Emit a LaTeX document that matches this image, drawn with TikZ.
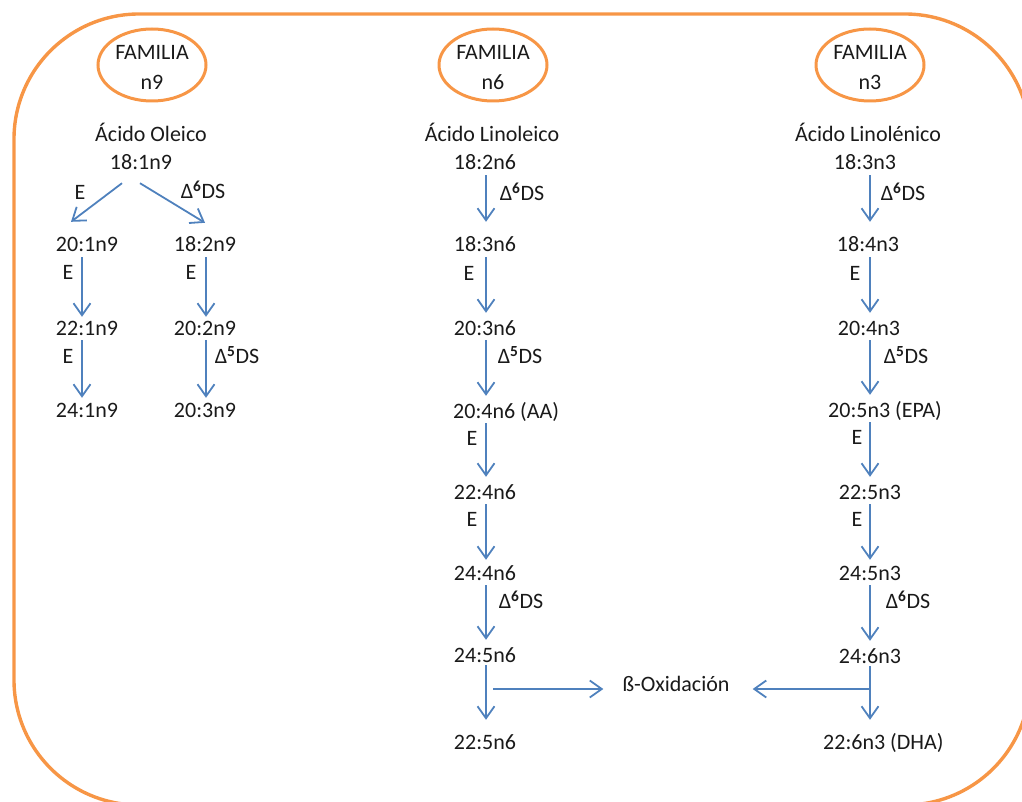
\documentclass[tikz,border=0pt]{standalone}
\usepackage{fontspec}
\setmainfont{Carlito}
\usetikzlibrary{arrows.meta,shapes.geometric,calc}
\definecolor{borange}{HTML}{F79646}
\definecolor{ablue}{HTML}{4F81BD}
\definecolor{txt}{HTML}{1A1A1A}
\newcommand{\dsup}[1]{Δ\textsuperscript{\textbf{#1}}DS}
\begin{document}
\begin{tikzpicture}[x=1pt,y=-1pt,
  lbl/.style={font=\fontsize{22}{26}\selectfont, inner sep=0pt, text=txt, text height=14pt, text depth=0pt},
  enz/.style={font=\fontsize{22}{26}\selectfont, inner sep=0pt, text=txt},
  fam/.style={ellipse, draw=borange, line width=3pt, align=center, minimum width=108pt, minimum height=72pt, inner sep=0pt, text=txt, font=\fontsize{22}{30}\selectfont},
  arr/.style={draw=ablue, line width=1.8pt, -{Straight Barb[length=12pt,width=17pt]}},
  vstep/.style={arr, shorten <=5pt, shorten >=8pt},
]
\useasboundingbox (0,0) rectangle (1022,802);
\begin{scope}
  \clip (0,0) rectangle (1022,802);
  \draw[borange, line width=3.4pt, rounded corners=125pt] (14,14) rectangle (1030,805);
\end{scope}

% column coordinates for the connectors
\coordinate (ca) at (82,0);
\coordinate (cb) at (206,0);
\coordinate (c6) at (486,0);
\coordinate (c3) at (870,0);

% families
\node[fam] (f9) at (152,65) {\rule{0pt}{20pt}FAMILIA\\n9};
\node[fam] (f6) at (493,65) {\rule{0pt}{20pt}FAMILIA\\n6};
\node[fam] (f3) at (870,65) {\rule{0pt}{20pt}FAMILIA\\n3};

% ---------- n9 ----------
\node[lbl] (ao) at (151,135) {Ácido Oleico};
\node[lbl] (a0) at (141,163) {18:1n9};
\node[lbl] (a1) at (87,245) {20:1n9};
\node[lbl] (a2) at (87,328) {22:1n9};
\node[lbl] (a3) at (87,410) {24:1n9};
\node[lbl] (b1) at (205,245) {18:2n9};
\node[lbl] (b2) at (205,328) {20:2n9};
\node[lbl] (b3) at (205,410) {20:3n9};

\draw[arr] ($(a0.south)+(-19,13)$) -- ($(a1.north)+(-16,-16)$);
\draw[arr] ($(a0.south)+(-1,13)$) -- ($(b1.north)+(0,-15)$);
\node[enz] at (80,192) {E};
\node[enz] at (203,190) {\dsup{6}};

\draw[vstep, shorten >=4pt] (a1.south -| ca) -- (a2.north -| ca);
\draw[vstep, shorten >=5pt] (a2.south -| ca) -- (a3.north -| ca);
\draw[vstep, shorten >=4pt] (b1.south -| cb) -- (b2.north -| cb);
\draw[vstep, shorten >=5pt] (b2.south -| cb) -- (b3.north -| cb);
\node[enz] at (68,272) {E};
\node[enz] at (68,356) {E};
\node[enz] at (191,272) {E};
\node[enz] at (237,355) {\dsup{5}};

% ---------- n6 ----------
\node[lbl] (lo) at (492,135) {Ácido Linoleico};
\node[lbl] (m0) at (485,163) {18:2n6};
\node[lbl] (m1) at (485,245) {18:3n6};
\node[lbl] (m2) at (485,328) {20:3n6};
\node[lbl, anchor=west] (m3) at (453,411) {20:4n6 (AA)};
\node[lbl] (m4) at (485,492) {22:4n6};
\node[lbl] (m5) at (485,573) {24:4n6};
\node[lbl] (m6) at (485,655) {24:5n6};
\node[lbl] (m7) at (485,742) {22:5n6};

\draw[vstep, shorten >=16pt] (m0.south -| c6) -- (m1.north -| c6);
\draw[vstep] (m1.south -| c6) -- (m2.north -| c6);
\draw[vstep] (m2.south -| c6) -- (m3.north -| c6);
\draw[vstep] (m3.south -| c6) -- (m4.north -| c6);
\draw[vstep, shorten >=6pt] (m4.south -| c6) -- (m5.north -| c6);
\draw[vstep] (m5.south -| c6) -- (m6.north -| c6);
\draw[vstep, shorten <=3pt, shorten >=15pt] (m6.south -| c6) -- (m7.north -| c6);
\node[enz] at (522,192) {\dsup{6}};
\node[enz] at (469,273) {E};
\node[enz] at (520,355) {\dsup{5}};
\node[enz] at (472,438) {E};
\node[enz] at (472,519) {E};
\node[enz] at (521,600) {\dsup{6}};

% ---------- n3 ----------
\node[lbl] (ln) at (868,135) {Ácido Linolénico};
\node[lbl] (k0) at (865,163) {18:3n3};
\node[lbl] (k1) at (868,245) {18:4n3};
\node[lbl] (k2) at (869,328) {20:4n3};
\node[lbl, anchor=west] (k3) at (828,410) {20:5n3 (EPA)};
\node[lbl] (k4) at (870,492) {22:5n3};
\node[lbl] (k5) at (870,573) {24:5n3};
\node[lbl] (k6) at (870,656) {24:6n3};
\node[lbl, anchor=west] (k7) at (823,742) {22:6n3 (DHA)};

\draw[vstep, shorten >=16pt] (k0.south -| c3) -- (k1.north -| c3);
\draw[vstep] (k1.south -| c3) -- (k2.north -| c3);
\draw[vstep] (k2.south -| c3) -- (k3.north -| c3);
\draw[vstep] (k3.south -| c3) -- (k4.north -| c3);
\draw[vstep, shorten >=6pt] (k4.south -| c3) -- (k5.north -| c3);
\draw[vstep] (k5.south -| c3) -- (k6.north -| c3);
\draw[vstep, shorten <=3pt, shorten >=15pt] (k6.south -| c3) -- (k7.north -| c3);
\node[enz] at (903,192) {\dsup{6}};
\node[enz] at (855,273) {E};
\node[enz] at (906,355) {\dsup{5}};
\node[enz] at (857,437) {E};
\node[enz] at (857,519) {E};
\node[enz] at (908,600) {\dsup{6}};

% ---------- beta-oxidation ----------
\node[lbl] (bo) at (676,684) {ß-Oxidación};
\draw[arr] ($(bo.west -| c6)+(7,5)$) -- ($(bo.west)+(-19,5)$);
\draw[arr] ($(bo.east -| c3)+(-1,5)$) -- ($(bo.east)+(23,5)$);
\end{tikzpicture}
\end{document}
